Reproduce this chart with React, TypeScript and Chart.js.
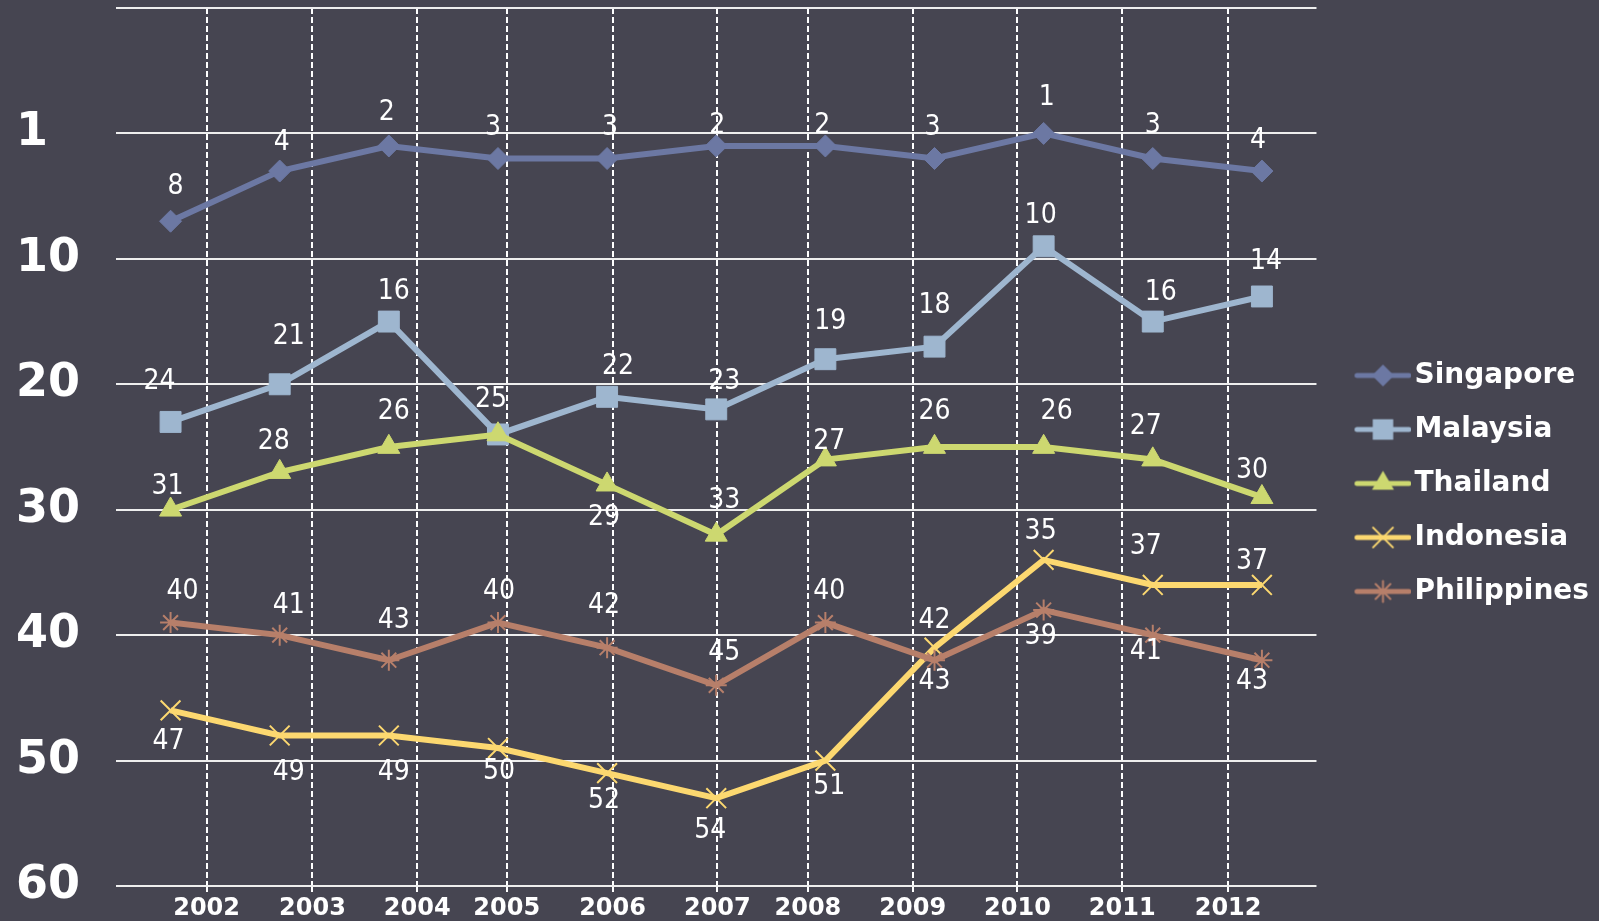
import React, { useEffect, useRef } from 'react';
import { Chart, registerables } from 'chart.js';

Chart.register(...registerables);

// ---------- data ----------
const years = ['2002', '2003', '2004', '2005', '2006', '2007', '2008', '2009', '2010', '2011', '2012'];
const seriesNames = ['Singapore', 'Malaysia', 'Thailand', 'Indonesia', 'Philippines'];
const singapore = [8, 4, 2, 3, 3, 2, 2, 3, 1, 3, 4];
const malaysia = [24, 21, 16, 25, 22, 23, 19, 18, 10, 16, 14];
const thailand = [31, 28, 26, 25, 29, 33, 27, 26, 26, 27, 30];
const indonesia = [47, 49, 49, 50, 52, 54, 51, 42, 35, 37, 37];
const philippines = [40, 41, 43, 40, 42, 45, 40, 43, 39, 41, 43];
const seriesValues = [singapore, malaysia, thailand, indonesia, philippines];

// rank axis ticks (value on scale) and the labels shown for them
const rankTicks = [-9, 1, 11, 21, 31, 41, 51, 61];
const rankTickLabels = ['', '1', '10', '20', '30', '40', '50', '60'];

// ---------- presentation ----------
// where the year grid lines / labels sit on the category index scale
const yearGridAt = [0.33, 1.3, 2.26, 3.08, 4.05, 5.01, 5.84, 6.8, 7.76, 8.72, 9.69];
// value-label nudges in px from each point ([dx, dy]); null = no label
const labelNudges: (number[] | null)[][] = [
  [[5, -35], [2, -28], [-2, -33], [-5, -31], [3, -31], [1, -20], [-3, -20], [-2, -31], [3, -36], [0, -33], [-4, -30]],
  [[-11, -40], [9, -48], [5, -30], [-7, -35], [11, -30], [8, -28], [5, -37], [0, -41], [-3, -31], [8, -29], [4, -35]],
  [[-3, -23], [-6, -30], [5, -35], null, [-3, 33], [8, -34], [4, -18], [0, -35], [13, -35], [-7, -33], [-10, -26]],
  [[-2, 31], [9, 37], [5, 37], [1, 24], [-3, 28], [-6, 33], [4, 26], [0, -27], [-3, -28], [-7, -38], [-10, -23]],
  [[12, -31], [9, -29], [5, -40], [1, -31], [-3, -42], [8, -33], [4, -31], [0, 21], [-3, 27], [-7, 17], [-10, 21]],
];
const seriesStyles = [
  { color: '#6c78a3', point: 'rectRot', radius: 11, border: 1, line: 6 },
  { color: '#9eb6cf', point: 'rect', radius: 14.8, border: 1, line: 6 },
  { color: '#cdd870', point: 'triangle', radius: 12.7, border: 1, line: 6 },
  { color: '#fcd870', point: 'crossRot', radius: 14, border: 2, line: 6 },
  { color: '#b77f6a', point: 'star', radius: 10.5, border: 2, line: 6 },
];

const BG = '#464551';
const FONT = '"DejaVu Sans", "Liberation Sans", sans-serif';
const LABEL_FONT = '"DejaVu Sans Condensed", "Noto Sans", "DejaVu Sans", sans-serif';

function drawMarker(ctx: CanvasRenderingContext2D, style: string, x: number, y: number, r: number, color: string) {
  ctx.fillStyle = color;
  ctx.strokeStyle = color;
  ctx.lineWidth = 2;
  ctx.beginPath();
  if (style === 'rectRot') {
    ctx.moveTo(x, y - r); ctx.lineTo(x + r, y); ctx.lineTo(x, y + r); ctx.lineTo(x - r, y); ctx.closePath(); ctx.fill();
  } else if (style === 'rect') {
    const s = r * Math.SQRT1_2; ctx.rect(x - s, y - s, 2 * s, 2 * s); ctx.fill();
  } else if (style === 'triangle') {
    let a = 0;
    ctx.moveTo(x + Math.sin(a) * r, y - Math.cos(a) * r);
    a += (2 * Math.PI) / 3; ctx.lineTo(x + Math.sin(a) * r, y - Math.cos(a) * r);
    a += (2 * Math.PI) / 3; ctx.lineTo(x + Math.sin(a) * r, y - Math.cos(a) * r);
    ctx.closePath(); ctx.fill();
  } else {
    const d = r * Math.SQRT1_2;
    ctx.moveTo(x - d, y - d); ctx.lineTo(x + d, y + d);
    ctx.moveTo(x - d, y + d); ctx.lineTo(x + d, y - d);
    if (style === 'star') {
      ctx.moveTo(x, y - r); ctx.lineTo(x, y + r);
      ctx.moveTo(x - r, y); ctx.lineTo(x + r, y);
    }
    ctx.stroke();
  }
}

function makeLegendIcon(st: typeof seriesStyles[number]) {
  const c = document.createElement('canvas');
  c.width = 80; c.height = 34;
  const ctx = c.getContext('2d')!;
  ctx.strokeStyle = st.color;
  ctx.lineWidth = 5;
  ctx.lineCap = 'round';
  ctx.beginPath();
  ctx.moveTo(25.5, 17); ctx.lineTo(77.5, 17);
  ctx.stroke();
  drawMarker(ctx, st.point, 51.5, 17, st.point === 'rect' ? 14.5 : st.radius, st.color);
  return c;
}

const rankLabelPlugin = {
  id: 'rankLabels',
  afterDatasetsDraw(chart: any) {
    const ctx = chart.ctx as CanvasRenderingContext2D;
    ctx.save();
    ctx.font = `28px ${LABEL_FONT}`;
    ctx.fillStyle = '#ffffff';
    ctx.textAlign = 'center';
    ctx.textBaseline = 'middle';
    chart.data.datasets.forEach((ds: any, di: number) => {
      const meta = chart.getDatasetMeta(di);
      meta.data.forEach((pt: any, i: number) => {
        const nudge = labelNudges[di][i];
        if (!nudge) return;
        ctx.fillText(String(ds.data[i]), pt.x + nudge[0], pt.y + nudge[1]);
      });
    });
    ctx.restore();
  },
};

export default function App() {
  const ref = useRef<HTMLCanvasElement>(null);
  useEffect(() => {
    const canvas = ref.current!;
    const icons = seriesStyles.map(makeLegendIcon);
    const n = seriesNames.length;
    const chart = new Chart(canvas, {
      type: 'line',
      data: {
        labels: years,
        datasets: seriesNames.map((name, i) => {
          const st = seriesStyles[i];
          return {
            label: name,
            data: seriesValues[i],
            borderColor: st.color,
            backgroundColor: st.color,
            borderWidth: st.line,
            pointStyle: st.point as any,
            pointRadius: st.radius,
            pointBorderWidth: st.border,
            pointBackgroundColor: st.color,
            pointBorderColor: st.color,
            tension: 0,
            order: n - i,
            xAxisID: 'x',
            yAxisID: 'y',
          };
        }),
      },
      options: {
        responsive: false,
        animation: false,
        events: [],
        layout: { autoPadding: false, padding: { left: 16, top: 8, right: 0, bottom: 0 } },
        scales: {
          x: {
            type: 'category',
            display: false,
            offset: true,
          },
          x2: {
            type: 'linear',
            position: 'bottom',
            min: -0.5,
            max: 10.5,
            afterBuildTicks: (scale: any) => {
              scale.ticks = yearGridAt.map((v) => ({ value: v }));
            },
            afterFit: (scale: any) => {
              scale.height = 35;
              scale.paddingLeft = 0;
              scale.paddingRight = 0;
              scale.paddingTop = 0;
              scale.paddingBottom = 0;
            },
            grid: {
              color: '#ffffff',
              lineWidth: 2,
              tickBorderDash: [6, 3],
              tickLength: 8,
              tickColor: '#ffffff',
              tickWidth: 2,
              drawTicks: true,
            },
            border: { display: false, dash: [6, 3] },
            ticks: {
              autoSkip: false,
              maxRotation: 0,
              padding: 0,
              color: '#ffffff',
              font: { family: FONT, size: 24, weight: 'bold' },
              callback: (_v: any, i: number) => years[i],
            },
          },
          y: {
            type: 'linear',
            reverse: true,
            min: -9,
            max: 61,
            afterBuildTicks: (scale: any) => {
              scale.ticks = rankTicks.map((v) => ({ value: v }));
            },
            afterFit: (scale: any) => {
              scale.width = 100;
              scale.paddingTop = 0;
              scale.paddingBottom = 0;
            },
            grid: { color: '#eeeeee', lineWidth: 2, drawTicks: false },
            border: { display: false },
            ticks: {
              crossAlign: 'far',
              padding: 0,
              color: '#ffffff',
              font: { family: FONT, size: 46, weight: 'bold' },
              callback: (_v: any, i: number) => rankTickLabels[i],
            },
          },
        },
        plugins: {
          tooltip: { enabled: false },
          legend: {
            display: true,
            position: 'right',
            align: 'center',
            title: { display: true, text: ' ', padding: 7, font: { size: 20 } },
            labels: {
              usePointStyle: true,
              pointStyleWidth: 58,
              padding: 26,
              color: '#ffffff',
              font: { family: FONT, size: 28, weight: 'bold' },
              generateLabels: (ch: any) =>
                ch.data.datasets.map((ds: any, i: number) => ({
                  text: ds.label,
                  fillStyle: ds.borderColor,
                  strokeStyle: ds.borderColor,
                  lineWidth: 0,
                  hidden: false,
                  datasetIndex: i,
                  pointStyle: icons[i],
                  fontColor: '#ffffff',
                })),
            },
          },
        },
      },
      plugins: [rankLabelPlugin],
    } as any);
    return () => chart.destroy();
  }, []);
  return (
    <div style={{ position: 'absolute', left: 0, top: 0, width: 1599, height: 921, background: BG }}>
      <canvas ref={ref} width={1599} height={921} style={{ display: 'block' }} />
    </div>
  );
}
